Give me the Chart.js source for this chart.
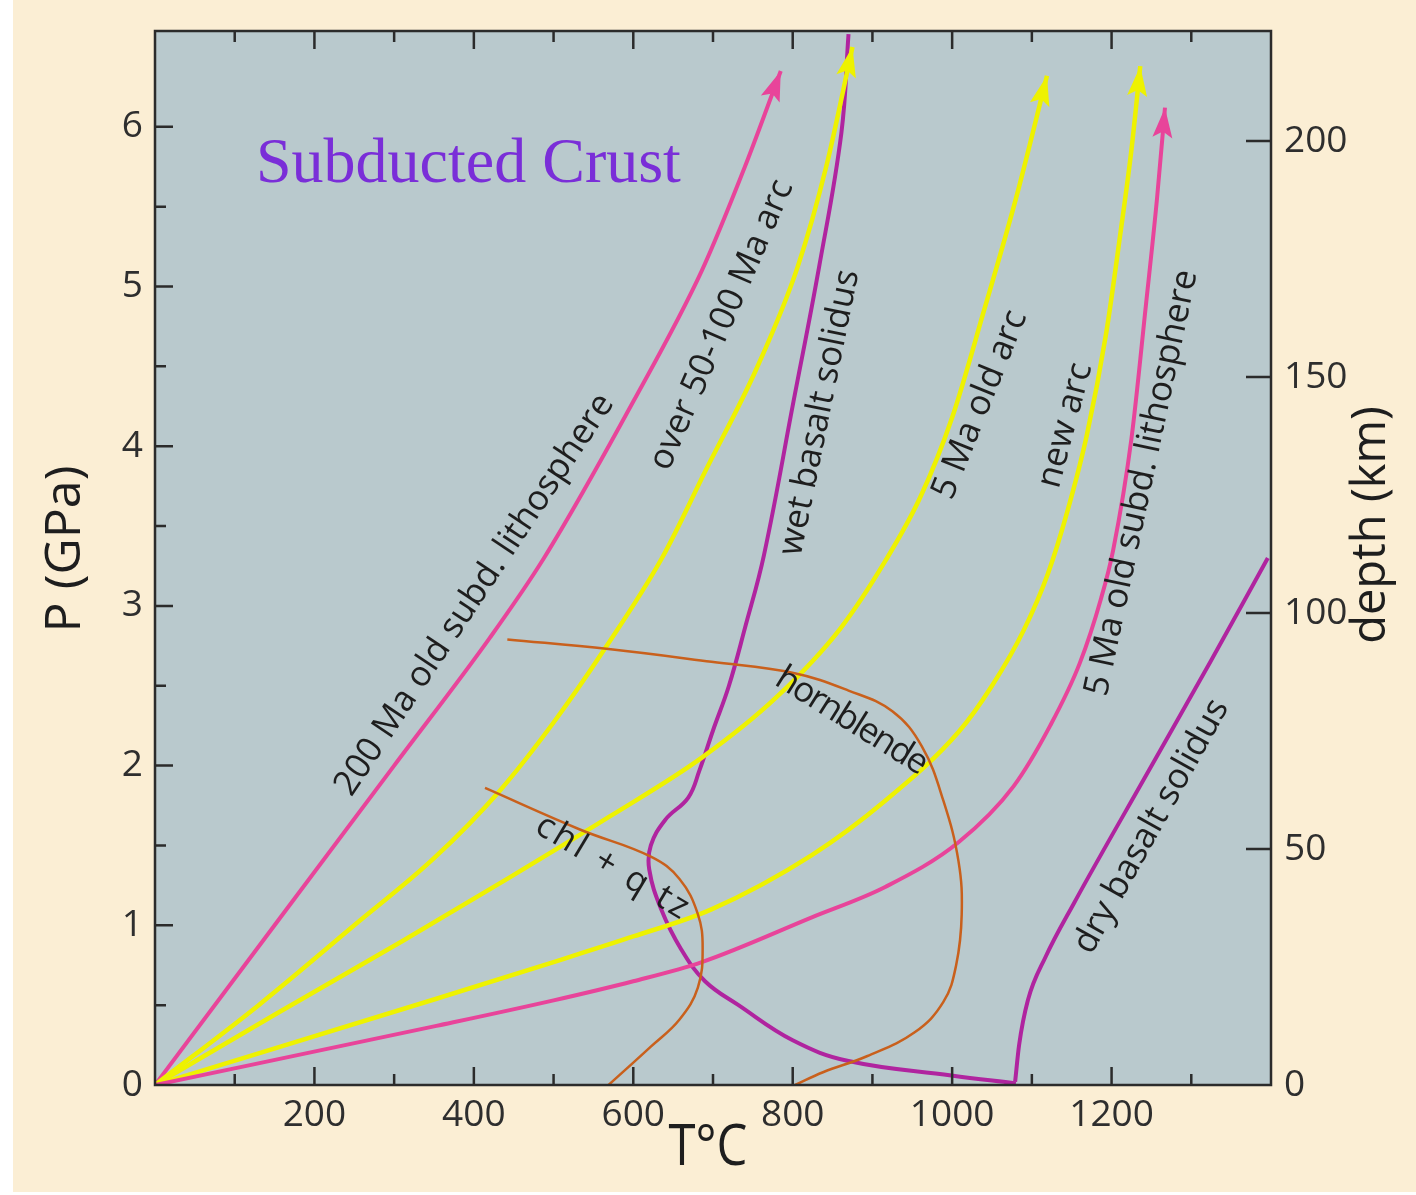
<!DOCTYPE html>
<html>
<head>
<meta charset="utf-8">
<script src="https://cdn.jsdelivr.net/npm/chart.js@4"></script>
<style>
  html, body { margin: 0; padding: 0; background: #ffffff; }
  canvas { display: block; }
</style>
</head>
<body>
<canvas id="chart" width="1416" height="1195"></canvas>
<script>
// axis ticks
const tempTicks = [0, 100, 200, 300, 400, 500, 600, 700, 800, 900, 1000, 1100, 1200, 1300];
const pressTicks = [0, 0.5, 1, 1.5, 2, 2.5, 3, 3.5, 4, 4.5, 5, 5.5, 6];
const depthTicks = [0, 50, 100, 150, 200];

// geotherms (T in degC, P in GPa)
const old200T = [0, 150, 300, 420, 488, 600, 686, 740, 785];
const old200P = [0, 1.0, 2.0, 2.8, 3.3, 4.28, 5.1, 5.75, 6.35];

const arc50T = [0, 130, 250, 350, 432, 500, 564, 636, 690, 755, 806, 842, 875];
const arc50P = [0, 0.5, 1.0, 1.42, 1.84, 2.27, 2.73, 3.3, 3.84, 4.49, 5.12, 5.75, 6.5];

const arc5T = [0, 150, 310, 445, 570, 686, 780, 860, 916, 960, 1000, 1040, 1080, 1119];
const arc5P = [0, 0.44, 0.9, 1.3, 1.68, 2.05, 2.43, 2.86, 3.28, 3.68, 4.18, 4.85, 5.55, 6.32];

const newArcT = [0, 353, 500, 600, 698, 824, 916, 1008, 1050, 1090, 1120, 1145, 1169, 1193, 1211, 1225, 1236];
const newArcP = [0, 0.54, 0.77, 0.93, 1.1, 1.44, 1.78, 2.21, 2.5, 2.85, 3.2, 3.6, 4.07, 4.7, 5.33, 5.86, 6.38];

const old5T = [0, 353, 500, 600, 686, 824, 916, 1008, 1077, 1123, 1160, 1187, 1202, 1225, 1243, 1257, 1267];
const old5P = [0, 0.37, 0.53, 0.65, 0.77, 1.05, 1.24, 1.52, 1.87, 2.25, 2.64, 3.05, 3.35, 4.05, 4.88, 5.55, 6.12];

// solidi and reaction curves
const wetT = [1080, 999, 870, 800, 732, 690, 660, 635, 620, 622, 640, 669, 683, 700, 720, 740, 764, 801, 833, 861, 870];
const wetP = [0.01, 0.06, 0.15, 0.28, 0.5, 0.65, 0.85, 1.1, 1.35, 1.5, 1.66, 1.8, 1.97, 2.22, 2.5, 2.86, 3.32, 4.28, 5.12, 5.96, 6.58];

const dryT = [1079, 1084, 1095, 1117, 1153, 1248, 1324, 1396];
const dryP = [0.02, 0.25, 0.53, 0.80, 1.14, 1.98, 2.65, 3.3];

const hblT = [442, 569, 698, 801, 870, 925, 962, 989, 1008, 1012, 1005, 989, 953, 893, 838, 803];
const hblP = [2.79, 2.73, 2.65, 2.58, 2.47, 2.34, 2.12, 1.78, 1.40, 1.07, 0.75, 0.52, 0.33, 0.18, 0.08, 0.0];

const chlT = [414, 533, 622, 658, 681, 687, 681, 658, 622, 569];
const chlP = [1.86, 1.60, 1.43, 1.29, 1.07, 0.86, 0.61, 0.41, 0.24, 0.0];

// curve labels (position in T / P, angle in degrees, letter spacing px)
const labelTexts = ['200 Ma old subd. lithosphere', 'over 50-100 Ma arc', 'wet basalt solidus', '5 Ma old arc',
                    'new arc', '5 Ma old subd. lithosphere', 'dry basalt solidus', 'hornblende', 'chl + q tz'];
const labelT = [401, 711, 834, 1035, 1142, 1238, 1250, 873, 575];
const labelP = [3.07, 4.76, 4.21, 4.26, 4.13, 3.77, 1.62, 2.28, 1.36];
const labelAngle = [-56.3, -66.5, -78.5, -68, -75, -78, -61, 32, 31];
const labelSpacing = [0, 0, 0, 0, 0, 0, 0, -2, 3];

const PINK = '#e8449a';
const YELLOW = '#eef200';
const PURPLE = '#b0249f';
const ORANGE = '#c9601c';

function pts(xs, ys) { return xs.map((x, i) => ({ x: x, y: ys[i] })); }

function series(xs, ys, color, width, arrow, smooth) {
  return {
    data: pts(xs, ys),
    borderColor: color,
    borderWidth: width,
    pointRadius: 0,
    showLine: true,
    fill: false,
    tension: 0.4,
    cubicInterpolationMode: smooth,
    arrow: arrow
  };
}

const frame = {
  id: 'frame',
  beforeDraw(chart) {
    const ctx = chart.ctx, a = chart.chartArea;
    ctx.save();
    ctx.fillStyle = '#ffffff';
    ctx.fillRect(0, 0, chart.width, chart.height);
    ctx.fillStyle = '#fbeed4';
    ctx.fillRect(13, 0, chart.width - 13, chart.height - 3);
    ctx.fillStyle = '#b9c9cd';
    ctx.fillRect(a.left, a.top, a.right - a.left, a.bottom - a.top);
    ctx.restore();
  },
  afterDatasetsDraw(chart) {
    const ctx = chart.ctx, a = chart.chartArea;
    const xs = chart.scales.x, ys = chart.scales.y, ds = chart.scales.y2;
    ctx.save();
    // arrow heads
    chart.data.datasets.forEach((d, i) => {
      if (!d.arrow) return;
      const pts = chart.getDatasetMeta(i).data;
      const p1 = pts[pts.length - 1], p0 = pts[pts.length - 2];
      const ang = Math.atan2(p1.y - p0.y, p1.x - p0.x);
      ctx.save();
      ctx.translate(p1.x, p1.y);
      ctx.rotate(ang);
      ctx.fillStyle = d.borderColor;
      ctx.beginPath();
      ctx.moveTo(0, 0);
      ctx.lineTo(-30, -10);
      ctx.lineTo(-24, 0);
      ctx.lineTo(-30, 10);
      ctx.closePath();
      ctx.fill();
      ctx.restore();
    });
    // curve labels
    ctx.fillStyle = '#1e1e1e';
    ctx.font = '35px "Open Sans", sans-serif';
    ctx.textAlign = 'center';
    ctx.textBaseline = 'middle';
    labelTexts.forEach((t, i) => {
      ctx.save();
      ctx.letterSpacing = labelSpacing[i] + 'px';
      ctx.translate(xs.getPixelForValue(labelT[i]), ys.getPixelForValue(labelP[i]));
      ctx.rotate(labelAngle[i] * Math.PI / 180);
      ctx.fillText(t, 0, 0);
      ctx.restore();
    });
    // frame and inward ticks
    ctx.strokeStyle = '#2b2b2b';
    ctx.lineWidth = 2.5;
    ctx.strokeRect(a.left, a.top, a.right - a.left, a.bottom - a.top);
    ctx.beginPath();
    tempTicks.forEach(v => {
      if (v === 0) return;
      const px = xs.getPixelForValue(v);
      const len = v % 200 === 0 ? 18 : 11;
      ctx.moveTo(px, a.bottom); ctx.lineTo(px, a.bottom - len);
      ctx.moveTo(px, a.top); ctx.lineTo(px, a.top + len);
    });
    pressTicks.forEach(v => {
      if (v === 0) return;
      const py = ys.getPixelForValue(v);
      const len = Number.isInteger(v) ? 18 : 11;
      ctx.moveTo(a.left, py); ctx.lineTo(a.left + len, py);
    });
    depthTicks.forEach(v => {
      if (v === 0) return;
      const py = ds.getPixelForValue(v);
      ctx.moveTo(a.right, py); ctx.lineTo(a.right - 25, py);
    });
    ctx.stroke();
    // axis titles
    ctx.fillStyle = '#1e1e1e';
    ctx.font = '50px "Open Sans", sans-serif';
    ctx.save();
    ctx.translate(66, 549);
    ctx.rotate(-Math.PI / 2);
    ctx.fillText('P (GPa)', 0, 0);
    ctx.restore();
    ctx.font = '47px "Open Sans", sans-serif';
    ctx.save();
    ctx.translate(1372, 525);
    ctx.rotate(-Math.PI / 2);
    ctx.fillText('depth (km)', 0, 0);
    ctx.restore();
    ctx.save();
    ctx.font = '57px "Open Sans", sans-serif';
    ctx.translate(708, 1149);
    ctx.scale(0.86, 1);
    ctx.fillText('T\u00B0C', 0, 0);
    ctx.restore();
    // title
    ctx.fillStyle = '#7a2ed8';
    ctx.font = '64px "Liberation Serif", "Times New Roman", serif';
    ctx.textAlign = 'left';
    ctx.textBaseline = 'alphabetic';
    ctx.fillText('Subducted Crust', 256, 182);
    ctx.restore();
  }
};

const tickFont = { family: 'Open Sans', size: 37 };

new Chart(document.getElementById('chart'), {
  type: 'scatter',
  data: {
    datasets: [
      series(chlT, chlP, ORANGE, 2.5, false, 'default'),
      series(hblT, hblP, ORANGE, 2.5, false, 'default'),
      series(old5T, old5P, PINK, 4, true, 'monotone'),
      series(newArcT, newArcP, YELLOW, 4.5, true, 'monotone'),
      series(arc5T, arc5P, YELLOW, 4.5, true, 'monotone'),
      series(arc50T, arc50P, YELLOW, 4.5, true, 'monotone'),
      series(old200T, old200P, PINK, 4, true, 'monotone'),
      series(wetT, wetP, PURPLE, 4, false, 'default'),
      series(dryT, dryP, PURPLE, 4, false, 'monotone')
    ]
  },
  options: {
    responsive: false,
    animation: false,
    layout: { padding: { top: 31, left: 0, right: 0, bottom: 0 } },
    plugins: { legend: { display: false }, tooltip: { enabled: false } },
    scales: {
      x: {
        type: 'linear', min: 0, max: 1400, position: 'bottom',
        afterBuildTicks: s => { s.ticks = tempTicks.map(v => ({ value: v })); },
        afterFit: s => { s.height = 110; },
        ticks: {
          callback: v => (v > 0 && v % 200 === 0) ? String(v) : '',
          font: tickFont, color: '#2e2e2e', padding: 0, maxRotation: 0, autoSkip: false
        },
        grid: { display: false }, border: { display: false }
      },
      y: {
        type: 'linear', min: 0, max: 6.6, position: 'left',
        afterBuildTicks: s => { s.ticks = pressTicks.map(v => ({ value: v })); },
        afterFit: s => { s.width = 155; },
        ticks: {
          callback: v => Number.isInteger(v) ? String(v) : '',
          font: tickFont, color: '#2e2e2e', padding: 4, autoSkip: false
        },
        grid: { display: false }, border: { display: false }
      },
      y2: {
        type: 'linear', min: 0, max: 223.3, position: 'right',
        afterBuildTicks: s => { s.ticks = depthTicks.map(v => ({ value: v })); },
        afterFit: s => { s.width = 145; },
        ticks: { font: tickFont, color: '#2e2e2e', padding: 5, autoSkip: false },
        grid: { display: false }, border: { display: false }
      }
    }
  },
  plugins: [frame]
});
</script>
</body>
</html>
